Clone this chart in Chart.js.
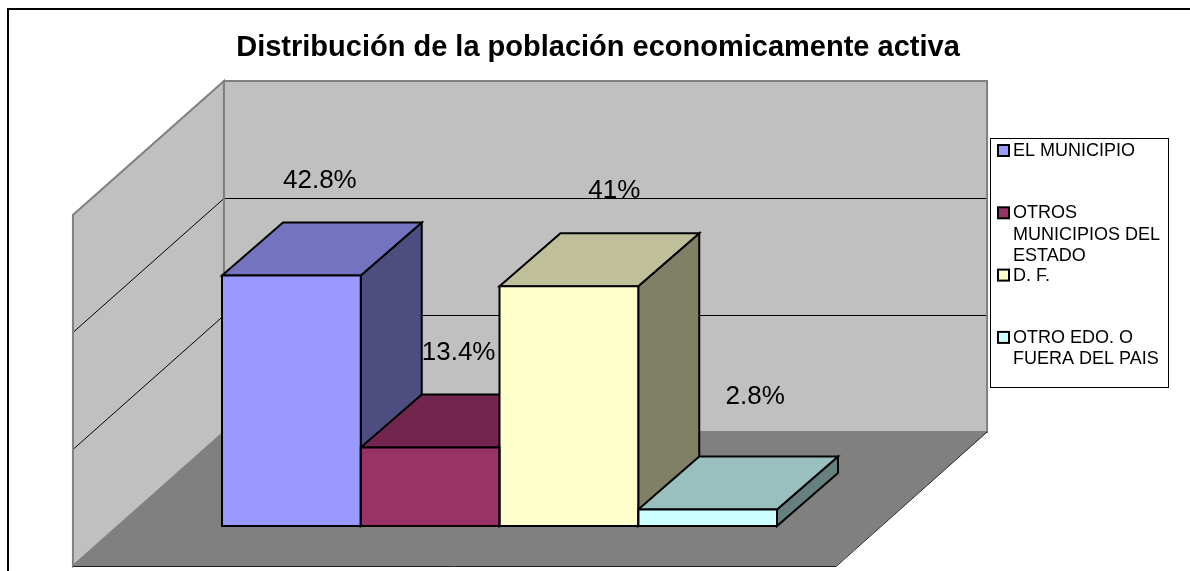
<!DOCTYPE html>
<html><head><meta charset="utf-8">
<script src="https://cdn.jsdelivr.net/npm/chart.js@4.4.0/dist/chart.umd.min.js"></script>
<style>html,body{margin:0;padding:0;background:#fff;overflow:hidden}#wrap{width:1190px;height:571px;position:relative}</style>
</head><body><div id="wrap"><canvas id="c" width="1190" height="571"></canvas></div>
<script>
// ---- data ----
const categories = ['EL MUNICIPIO', 'OTROS MUNICIPIOS DEL ESTADO', 'D. F.', 'OTRO EDO. O FUERA DEL PAIS'];
const legendLines = [['EL MUNICIPIO'], ['OTROS', 'MUNICIPIOS DEL', 'ESTADO'], ['D. F.'], ['OTRO EDO. O', 'FUERA DEL PAIS']];
const values = [42.8, 13.4, 41, 2.8];
const valueLabels = ['42.8%', '13.4%', '41%', '2.8%'];
const yTicks = [0, 20, 40, 60];
const chartTitle = 'Distribución de la población economicamente activa';

// ---- styles ----
const frontColors = ['#9999FF', '#993366', '#FFFFCC', '#CCFFFF'];
const topColors = ['#7373BF', '#73264D', '#BFBF99', '#99BFBF'];
const sideColors = ['#4D4D80', '#4D1A33', '#808066', '#668080'];
const FONT = '"Liberation Sans", Arial, sans-serif';
const BAR_DEPTH = {dx: 61, dy: -53};
const FLOOR_FRONT = {dx: -45, dy: 40};
const WALL_BACK = {dx: 106, dy: -94};
const SIDE_GAP = 0.75; // in category widths
const LABEL_NUDGE_X = [-2, -2, 15, 17]; // label placement tweaks (px)

function poly(ctx, pts, fill, stroke, lw) {
  ctx.beginPath();
  ctx.moveTo(pts[0][0], pts[0][1]);
  for (let i = 1; i < pts.length; i++) ctx.lineTo(pts[i][0], pts[i][1]);
  ctx.closePath();
  if (fill) { ctx.fillStyle = fill; ctx.fill(); }
  if (stroke) { ctx.strokeStyle = stroke; ctx.lineWidth = lw; ctx.stroke(); }
}

const threeD = {
  id: 'threeD',
  beforeDatasetsDraw(chart) {
    const {ctx, scales: {x, y}} = chart;
    const catW = x.getPixelForValue(1) - x.getPixelForValue(0);
    const fl = x.left - SIDE_GAP * catW, fr = x.right + SIDE_GAP * catW;
    const y0 = y.getPixelForValue(yTicks[0]);
    const yT = y.getPixelForValue(yTicks[yTicks.length - 1]);
    const F = FLOOR_FRONT, B = WALL_BACK;
    ctx.save();
    ctx.lineJoin = 'miter';
    const back = [[fl + B.dx, yT + B.dy], [fr + B.dx, yT + B.dy], [fr + B.dx, y0 + B.dy], [fl + B.dx, y0 + B.dy]];
    poly(ctx, back, '#C0C0C0');
    const left = [[fl + F.dx, y0 + F.dy], [fl + B.dx, y0 + B.dy], [fl + B.dx, yT + B.dy], [fl + F.dx, yT + F.dy]];
    poly(ctx, left, '#C0C0C0');
    const floor = [[fl + F.dx, y0 + F.dy], [fr + F.dx, y0 + F.dy], [fr + B.dx, y0 + B.dy], [fl + B.dx, y0 + B.dy]];
    poly(ctx, floor, '#808080');
    ctx.strokeStyle = '#000'; ctx.lineWidth = 1;
    for (let k = 1; k < yTicks.length - 1; k++) {
      const yy = y.getPixelForValue(yTicks[k]);
      ctx.beginPath();
      ctx.moveTo(fl + F.dx, Math.round(yy + F.dy) + 0.5);
      ctx.lineTo(fl + B.dx, Math.round(yy + B.dy) + 0.5);
      ctx.lineTo(fr + B.dx, Math.round(yy + B.dy) + 0.5);
      ctx.stroke();
    }
    poly(ctx, back, null, '#808080', 2);
    poly(ctx, left, null, '#808080', 2);
    ctx.strokeStyle = '#202020'; ctx.lineWidth = 1;
    ctx.beginPath();
    ctx.moveTo(fl + F.dx, y0 + F.dy + 0.5);
    ctx.lineTo(fr + F.dx, y0 + F.dy + 0.5);
    ctx.lineTo(fr + B.dx, y0 + B.dy);
    ctx.stroke();
    const meta = chart.getDatasetMeta(0);
    const D = BAR_DEPTH;
    meta.data.forEach((bar, i) => {
      const l = bar.x - bar.width / 2, r = bar.x + bar.width / 2, t = bar.y, b = bar.base;
      poly(ctx, [[r, t], [r + D.dx, t + D.dy], [r + D.dx, b + D.dy], [r, b]], sideColors[i], '#000', 2);
      poly(ctx, [[l, t], [l + D.dx, t + D.dy], [r + D.dx, t + D.dy], [r, t]], topColors[i], '#000', 2);
    });
    ctx.restore();
  },
  afterDatasetsDraw(chart) {
    const {ctx} = chart;
    const meta = chart.getDatasetMeta(0);
    const D = BAR_DEPTH;
    ctx.save();
    ctx.lineJoin = 'miter';
    meta.data.forEach((bar) => {
      const l = bar.x - bar.width / 2, r = bar.x + bar.width / 2;
      poly(ctx, [[l, bar.y], [r, bar.y], [r, bar.base], [l, bar.base]], null, '#000', 2);
    });
    ctx.fillStyle = '#000';
    ctx.font = '26px ' + FONT;
    ctx.textAlign = 'center';
    ctx.textBaseline = 'middle';
    meta.data.forEach((bar, i) => {
      const anchorY = Math.min(bar.y, bar.base - 34);
      ctx.fillText(valueLabels[i], bar.x + D.dx / 2 + LABEL_NUDGE_X[i], anchorY + D.dy - 42);
    });
    ctx.restore();
  },
  afterDraw(chart) {
    const {ctx} = chart;
    ctx.save();
    ctx.strokeStyle = '#000'; ctx.lineWidth = 2;
    ctx.beginPath(); ctx.moveTo(8, 600); ctx.lineTo(8, 9); ctx.lineTo(1200, 9); ctx.stroke();
    ctx.fillStyle = '#000';
    ctx.font = 'bold 29px ' + FONT;
    ctx.textAlign = 'center'; ctx.textBaseline = 'middle';
    ctx.fillText(chartTitle, 598, 48);
    ctx.strokeStyle = '#000'; ctx.lineWidth = 1;
    ctx.strokeRect(990.5, 138.5, 178, 249);
    ctx.font = '18px ' + FONT;
    ctx.textAlign = 'left';
    legendLines.forEach((lines, i) => {
      const sy = 151 + i * 62.3;
      ctx.fillStyle = frontColors[i];
      ctx.fillRect(998, sy - 6, 11, 11);
      ctx.strokeStyle = '#000'; ctx.lineWidth = 2;
      ctx.strokeRect(998, sy - 6, 11, 11);
      ctx.fillStyle = '#000';
      lines.forEach((ln, j) => ctx.fillText(ln, 1013, sy + j * 21.5));
    });
    ctx.restore();
  }
};

new Chart(document.getElementById('c'), {
  type: 'bar',
  data: {
    labels: categories,
    datasets: [{
      label: 'Distribución',
      data: values,
      backgroundColor: frontColors,
      borderWidth: 0,
      barPercentage: 1,
      categoryPercentage: 1
    }]
  },
  options: {
    responsive: false,
    animation: false,
    devicePixelRatio: 1,
    layout: {padding: {left: 222, right: 413, top: 175, bottom: 45}},
    scales: {
      x: {display: false, offset: true},
      y: {display: false, min: yTicks[0], max: yTicks[yTicks.length - 1]}
    },
    plugins: {legend: {display: false}, title: {display: false}, tooltip: {enabled: false}}
  },
  plugins: [threeD]
});
</script></body></html>
